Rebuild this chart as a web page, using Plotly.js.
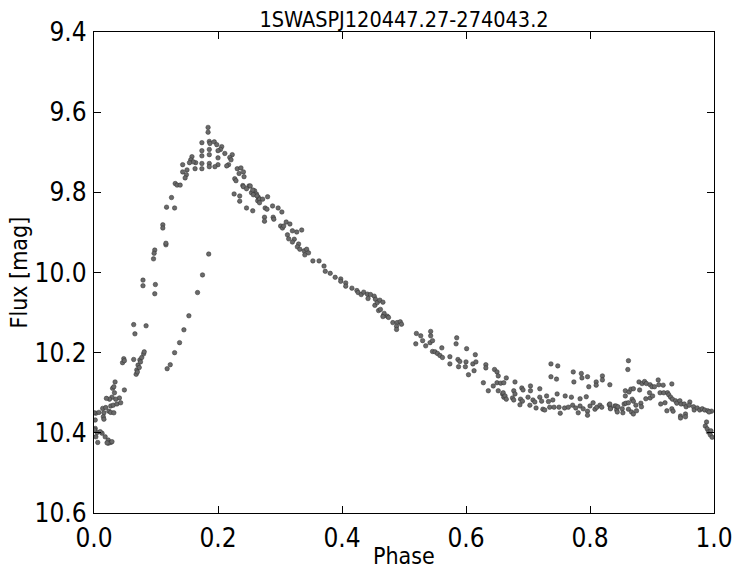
<!DOCTYPE html>
<html>
<head>
<meta charset="utf-8">
<script src="https://cdn.plot.ly/plotly-3.0.1.min.js"></script>
<style>html,body{margin:0;padding:0;background:#fff;}#chart{width:741px;height:578px;}</style>
</head>
<body>
<div id="chart"></div>
<script>
var chartTitle = "1SWASPJ120447.27-274043.2";
var xLabel = "Phase";
var yLabel = "Flux [mag]";
var xTicks = [0.0, 0.2, 0.4, 0.6, 0.8, 1.0];
var yTicks = [9.4, 9.6, 9.8, 10.0, 10.2, 10.4, 10.6];

var phase = [
0.002,0.002,0.003,0.008,0.005,0.003,0.006,0.013,0.018,0.023,0.027,0.023,0.029,0.014,0.019,0.016,0.015,0.016,0.024,0.027,
0.032,0.027,0.031,0.037,0.043,0.041,0.035,0.029,0.025,0.020,0.033,0.030,0.032,0.034,0.049,0.048,0.046,0.049,0.000,0.001,
0.010,0.021,
0.064,0.066,0.084,0.064,0.069,0.068,0.071,0.074,0.077,0.080,0.081,0.075,0.073,0.070,0.079,0.079,0.099,0.098,0.118,0.123,
0.130,0.138,0.145,0.153,
0.184,0.184,0.174,0.186,0.187,0.194,0.198,0.206,0.204,0.200,0.211,0.186,0.174,0.186,0.174,0.200,0.223,0.219,0.221,0.217,
0.214,0.200,0.195,0.186,0.186,0.174,0.174,0.163,0.164,0.158,0.156,0.160,0.154,0.143,0.150,0.143,0.149,0.147,0.131,0.134,
0.139,0.125,0.117,0.130,0.111,0.111,0.116,0.116,0.098,0.097,0.096,0.185,0.175,0.167,0.231,0.237,0.234,0.241,0.242,0.227,
0.229,0.240,0.241,0.250,0.246,0.259,0.254,0.262,0.265,0.264,0.226,0.235,0.235,0.246,0.256,
0.252,0.256,0.257,0.263,0.267,0.272,0.280,0.267,0.276,0.279,0.288,0.297,0.303,0.289,0.290,0.275,0.275,0.310,0.316,0.301,
0.304,0.306,0.320,0.327,0.335,0.312,0.314,0.323,0.320,0.330,0.328,0.332,0.339,0.343,0.346,0.340,0.353,0.363,0.371,0.373,
0.381,0.389,0.398,0.398,0.406,0.406,0.416,0.424,0.426,0.431,0.435,0.441,0.442,0.446,0.452,0.454,0.453,0.457,0.461,0.466,
0.459,0.467,0.473,
0.462,0.468,0.466,0.475,0.482,0.489,0.494,0.496,0.488,0.488,0.520,0.527,0.543,0.543,0.519,0.530,0.535,0.542,0.546,0.546,
0.550,0.554,0.558,0.562,0.561,0.585,0.584,0.601,0.574,0.587,0.590,0.574,0.588,0.599,0.600,0.611,0.615,0.616,0.613,0.604,
0.632,0.632,0.646,0.650,0.652,0.665,
0.628,0.636,0.644,0.650,0.652,0.659,0.661,0.656,
0.661,0.679,0.660,0.663,0.665,0.677,0.679,0.675,0.677,0.690,0.692,0.688,0.691,0.687,0.704,0.704,0.700,0.708,0.703,0.711,
0.713,0.719,0.719,0.722,0.724,0.727,0.730,0.733,0.737,0.748,0.737,0.746,0.735,0.740,0.742,0.747,0.750,0.752,0.760,0.759,
0.765,0.770,0.773,0.774,0.772,0.777,0.781,0.784,0.784,0.786,0.787,0.789,0.794,0.796,0.798,0.796,0.800,0.805,0.810,0.810,
0.808,0.811,0.816,0.820,0.820,0.819,0.832,0.831,0.833,0.840,0.843,0.796,
0.862,0.861,0.832,0.833,0.842,0.845,0.844,0.852,0.853,0.855,0.858,0.862,0.857,0.857,0.863,0.866,0.870,0.868,0.870,0.862,
0.867,0.870,0.875,0.874,0.882,0.883,0.880,0.879,0.884,0.888,0.891,0.897,0.896,0.890,0.897,0.901,0.900,0.904,0.910,0.911,
0.918,0.913,0.919,0.925,0.927,0.932,0.914,0.921,0.924,0.932,0.934,0.930,0.933,0.938,0.940,0.945,0.947,0.946,0.946,0.952,
0.955,0.954,0.954,0.961,0.960,0.967,0.968,0.973,0.977,0.981,0.985,0.990,0.996,0.992,0.988,0.986,0.989,0.991,0.994,0.997,
0.995
];

var mag = [
10.389,10.368,10.351,10.349,10.399,10.410,10.424,10.401,10.410,10.418,10.424,10.426,10.422,10.339,10.337,10.350,10.360,10.366,10.346,10.349,
10.350,10.333,10.331,10.328,10.325,10.313,10.316,10.311,10.316,10.314,10.300,10.289,10.285,10.273,10.293,10.215,10.225,10.220,10.350,10.393,
10.397,10.425,
10.130,10.153,10.133,10.217,10.243,10.254,10.231,10.218,10.212,10.203,10.198,10.223,10.237,10.248,10.019,10.033,10.030,10.053,10.240,10.230,
10.200,10.175,10.143,10.108,
9.638,9.650,9.676,9.673,9.678,9.674,9.681,9.686,9.693,9.696,9.703,9.693,9.696,9.706,9.709,9.714,9.706,9.713,9.719,9.731,
9.734,9.731,9.736,9.728,9.736,9.728,9.741,9.741,9.726,9.711,9.719,9.724,9.726,9.731,9.744,9.749,9.756,9.764,9.778,9.782,
9.782,9.813,9.837,9.839,9.881,9.889,9.931,9.927,9.944,9.952,9.966,9.954,10.006,10.050,9.741,9.739,9.753,9.749,9.761,9.766,
9.771,9.783,9.786,9.784,9.791,9.796,9.801,9.804,9.812,9.821,9.804,9.809,9.822,9.839,9.846,
9.784,9.794,9.806,9.809,9.817,9.817,9.811,9.826,9.839,9.842,9.834,9.839,9.849,9.862,9.867,9.862,9.872,9.874,9.879,9.884,
9.889,9.884,9.896,9.899,9.894,9.906,9.916,9.917,9.924,9.929,9.936,9.942,9.946,9.942,9.951,9.956,9.971,9.971,9.984,9.997,
10.002,10.012,10.016,10.022,10.026,10.034,10.039,10.045,10.050,10.055,10.049,10.054,10.065,10.055,10.059,10.067,10.082,10.075,10.069,10.074,
10.095,10.107,10.109,
10.092,10.102,10.110,10.112,10.125,10.125,10.123,10.129,10.134,10.142,10.152,10.158,10.147,10.158,10.178,10.170,10.183,10.175,10.170,10.197,
10.198,10.202,10.207,10.212,10.188,10.163,10.178,10.190,10.210,10.217,10.222,10.228,10.235,10.235,10.223,10.228,10.205,10.223,10.245,10.255,
10.230,10.238,10.242,10.248,10.258,10.263,
10.275,10.295,10.283,10.275,10.295,10.303,10.311,10.276,
10.275,10.273,10.300,10.308,10.316,10.295,10.303,10.313,10.318,10.288,10.293,10.316,10.321,10.330,10.283,10.295,10.311,10.318,10.331,10.323,
10.338,10.290,10.311,10.321,10.341,10.343,10.308,10.322,10.228,10.233,10.260,10.266,10.336,10.318,10.336,10.303,10.336,10.351,10.308,10.338,
10.336,10.311,10.248,10.273,10.331,10.338,10.350,10.315,10.333,10.252,10.263,10.340,10.310,10.260,10.285,10.346,10.333,10.325,10.273,10.281,
10.341,10.336,10.331,10.258,10.268,10.336,10.280,10.330,10.338,10.333,10.343,10.356,
10.220,10.242,10.328,10.340,10.333,10.335,10.348,10.340,10.350,10.328,10.326,10.325,10.308,10.295,10.298,10.291,10.290,10.316,10.321,10.341,
10.348,10.353,10.345,10.331,10.326,10.335,10.293,10.273,10.277,10.272,10.277,10.280,10.300,10.315,10.313,10.308,10.285,10.285,10.268,10.280,
10.281,10.300,10.300,10.300,10.305,10.278,10.328,10.325,10.345,10.340,10.346,10.311,10.316,10.320,10.326,10.320,10.328,10.358,10.363,10.328,
10.335,10.353,10.360,10.323,10.331,10.335,10.343,10.338,10.343,10.340,10.343,10.345,10.346,10.348,10.373,10.383,10.390,10.398,10.405,10.411,
10.395
];

var FONT = "DejaVu Sans Condensed, DejaVu Sans, sans-serif";

var trace = {
  x: phase, y: mag, type: "scatter", mode: "markers",
  marker: {size: 4.5, color: "#6a6a6a", line: {color: "#2e2e2e", width: 0.5}},
  hoverinfo: "skip"
};

var axisCommon = {
  showgrid: false, zeroline: false, showline: true, linecolor: "#000", linewidth: 1.2,
  mirror: "ticks", ticks: "inside", ticklen: 7, tickwidth: 1, tickcolor: "#000",
  tickfont: {family: FONT, size: 26, color: "#000"}, tickformat: ".1f", automargin: false
};

var layout = {
  width: 741, height: 578,
  margin: {l: 94, r: 27, t: 32, b: 65, pad: 0},
  paper_bgcolor: "#fff", plot_bgcolor: "#fff",
  showlegend: false,
  title: {text: chartTitle, font: {family: FONT, size: 21.5, color: "#000"},
          x: 0.5, xref: "paper", y: 1 - 19/578, yref: "container", yanchor: "middle"},
  xaxis: Object.assign({}, axisCommon, {
    range: [0, 1], tickmode: "array", tickvals: xTicks, ticklabelstandoff: 2
  }),
  yaxis: Object.assign({}, axisCommon, {
    range: [10.6, 9.4], tickmode: "array", tickvals: yTicks, ticklabelstandoff: 1
  }),
  annotations: [
    {text: xLabel, xref: "paper", yref: "paper", x: 0.5, y: -43/481, xanchor: "center", yanchor: "middle",
     showarrow: false, font: {family: FONT, size: 23, color: "#000"}},
    {text: yLabel, xref: "paper", yref: "paper", x: -76/620, y: 0.5, xanchor: "center", yanchor: "middle",
     textangle: -90, showarrow: false, font: {family: FONT, size: 23, color: "#000"}}
  ]
};

Plotly.newPlot("chart", [trace], layout, {displayModeBar: false, staticPlot: true});
</script>
</body>
</html>
